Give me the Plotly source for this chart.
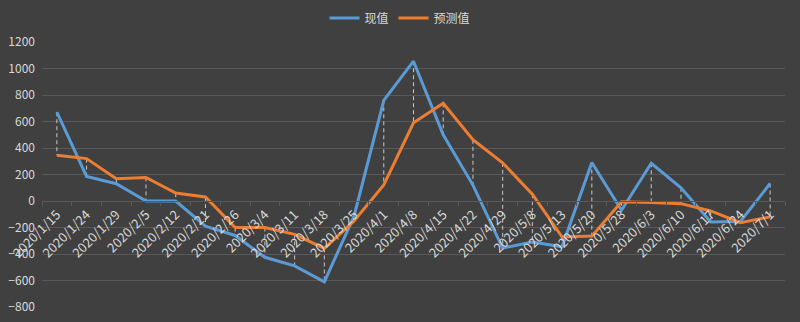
import plotly.graph_objects as go

# Weekly dates on the category axis
dates = [
    "2020/1/15", "2020/1/24", "2020/1/29", "2020/2/5", "2020/2/12", "2020/2/21",
    "2020/2/26", "2020/3/4", "2020/3/11", "2020/3/18", "2020/3/25", "2020/4/1",
    "2020/4/8", "2020/4/15", "2020/4/22", "2020/4/29", "2020/5/8", "2020/5/13",
    "2020/5/20", "2020/5/28", "2020/6/3", "2020/6/10", "2020/6/17", "2020/6/24",
    "2020/7/1",
]

# 现值 (actual)
actual = [
    670, 185, 130, 0, 0, -190, -260, -425, -490, -610, -115, 760,
    1055, 500, 120, -355, -310, -345, 290, -70, 285, 100, -158, -155, 132,
]

# 预测值 (forecast)
forecast = [
    345, 320, 168, 178, 60, 30, -200, -200, -252, -358, -150, 122,
    590, 737, 462, 288, 52, -272, -265, -5, -12, -20, -75, -163, -120,
]

y_ticks = [-800, -600, -400, -200, 0, 200, 400, 600, 800, 1000, 1200]

BG = "#404040"
GRID = "#595959"
TEXT = "#d9d9d9"
BLUE = "#5b9bd5"
ORANGE = "#ed7d31"
FONT = "Microsoft YaHei, Noto Sans CJK SC, sans-serif"

# High-low connectors between the two series at each date
hl_x, hl_y = [], []
for d, a, f in zip(dates, actual, forecast):
    hl_x += [d, d, None]
    hl_y += [max(a, f), min(a, f), None]

fig = go.Figure()
fig.add_trace(go.Scatter(
    x=hl_x, y=hl_y, mode="lines", showlegend=False, hoverinfo="skip",
    line=dict(color="#c8c8c8", width=1, dash="4px,3px"),
))
fig.add_trace(go.Scatter(
    x=dates, y=actual, mode="lines", name="现值",
    line=dict(color=BLUE, width=3),
))
fig.add_trace(go.Scatter(
    x=dates, y=forecast, mode="lines", name="预测值",
    line=dict(color=ORANGE, width=3),
))

y_min, y_max = y_ticks[0], y_ticks[-1]
fig.update_layout(
    width=800, height=322,
    paper_bgcolor=BG, plot_bgcolor=BG,
    margin=dict(l=42, r=15, t=42, b=15, autoexpand=False),
    font=dict(family=FONT, size=12, color=TEXT),
    showlegend=True,
    legend=dict(
        orientation="h", xref="container", x=0.5, xanchor="center",
        yref="container", y=1 - 18 / 322, yanchor="middle",
        font=dict(size=12, color=TEXT),
        bgcolor="rgba(0,0,0,0)", itemwidth=30, tracegroupgap=0,
    ),
    xaxis=dict(
        type="category", categoryorder="array", categoryarray=dates,
        range=[-0.5, len(dates) - 0.5],
        anchor="free", position=(0 - y_min) / (y_max - y_min),
        showgrid=False, showline=True, linecolor=GRID, linewidth=1,
        ticks="outside", tickson="boundaries", ticklen=4, tickcolor=GRID,
        tickangle=-45, tickfont=dict(size=13, color=TEXT),
        zeroline=False,
    ),
    yaxis=dict(
        range=[y_min, y_max], tickvals=y_ticks,
        showgrid=True, gridcolor=GRID, gridwidth=1,
        zeroline=True, zerolinecolor=GRID, zerolinewidth=1,
        showline=False, ticks="", ticklabelstandoff=6,
        tickfont=dict(size=12, color=TEXT),
    ),
)

fig.write_html("out.html")
